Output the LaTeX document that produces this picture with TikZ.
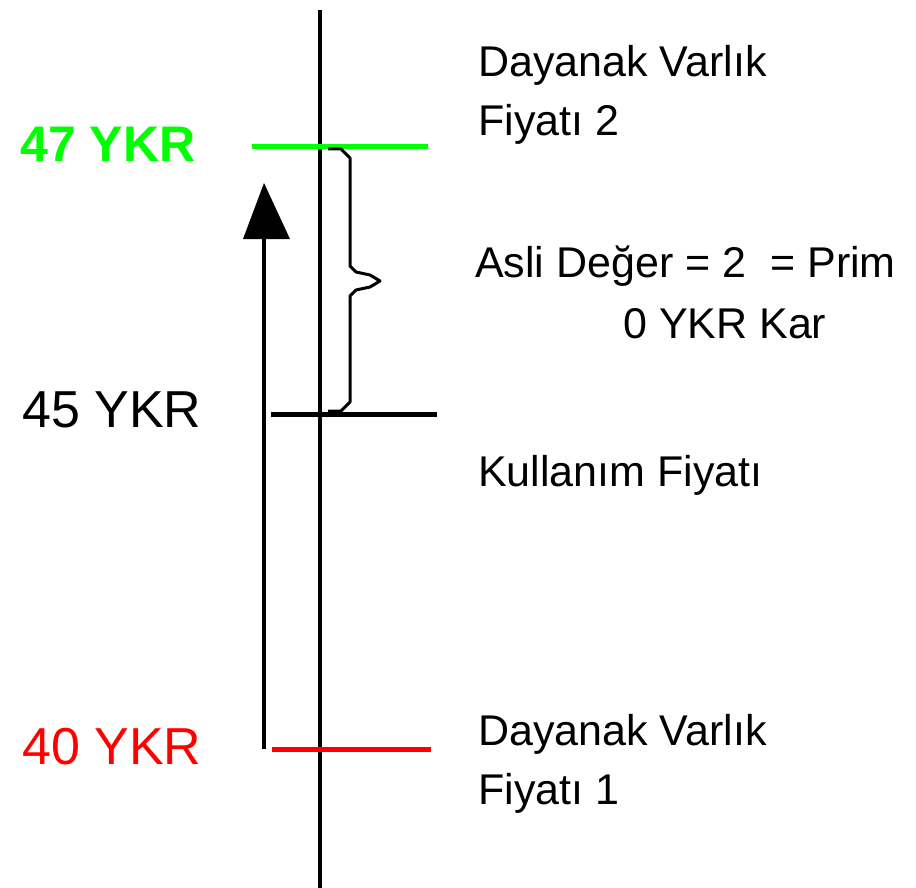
\documentclass[tikz,border=0pt]{standalone}
\usepackage{fontspec}
\setmainfont{Liberation Sans}
\definecolor{lgreen}{HTML}{00FF00}
\definecolor{lred}{HTML}{FF0000}
\begin{document}
\begin{tikzpicture}[x=1pt,y=-1pt,
  rtext/.style={anchor=base west,inner sep=0pt,font=\fontsize{43}{50}\selectfont},
  ltext/.style={anchor=base west,inner sep=0pt,font=\fontsize{52}{60}\selectfont},
  level/.style={line width=5pt},
  axis/.style={line width=4pt}]
\useasboundingbox (0,0) rectangle (916,888);
% main vertical axis
\coordinate (axtop) at (320,10);
\coordinate (axbot) at (320,888);
\draw[axis] (axtop) -- (axbot);
% level lines
\coordinate (g1) at (252,146.5); \coordinate (g2) at (428,146.5);
\coordinate (b1) at (271,414.5); \coordinate (b2) at (437,414.5);
\coordinate (r1) at (272,749.5); \coordinate (r2) at (431,749.5);
\draw[level,lgreen] (g1) -- (g2);
\draw[level,black] (b1) -- (b2);
\draw[level,lred] (r1) -- (r2);
% arrow
\coordinate (arbot) at (264,749);
\coordinate (artip) at (264,183);
\coordinate (arbase) at (264,238);
\draw[line width=3.5pt] (arbot) -- (arbase);
\fill (artip) -- (290,239) -- (243,239) -- cycle;
% brace
\draw[line width=3pt,line join=round]
  (328,149) -- (341,149) -- (350,158) -- (350,266) -- (356,272) -- (370,275) -- (380,281)
  -- (370,287) -- (356,290) -- (350,296) -- (350,402) -- (341,411) -- (328,411);
% left labels
\node[ltext,lgreen,font=\fontsize{50}{60}\selectfont\bfseries] (l47) at (20,161) {47 YKR};
\node[ltext] (l45) at (22,427) {45 YKR};
\node[ltext,lred] (l40) at (22,764) {40 YKR};
% right labels
\node[rtext] (t1) at (478,77) {Dayanak Varlık};
\node[rtext] (t2) at (478,136) {Fiyatı 2};
\node[rtext] (t3) at (475,277) {Asli Değer = 2 \ = Prim};
\node[rtext] (t4) at (623,338) {0 YKR Kar};
\node[rtext] (t5) at (478,486) {Kullanım Fiyatı};
\node[rtext] (t6) at (478,745) {Dayanak Varlık};
\node[rtext] (t7) at (478,804) {Fiyatı 1};
\end{tikzpicture}
\end{document}
